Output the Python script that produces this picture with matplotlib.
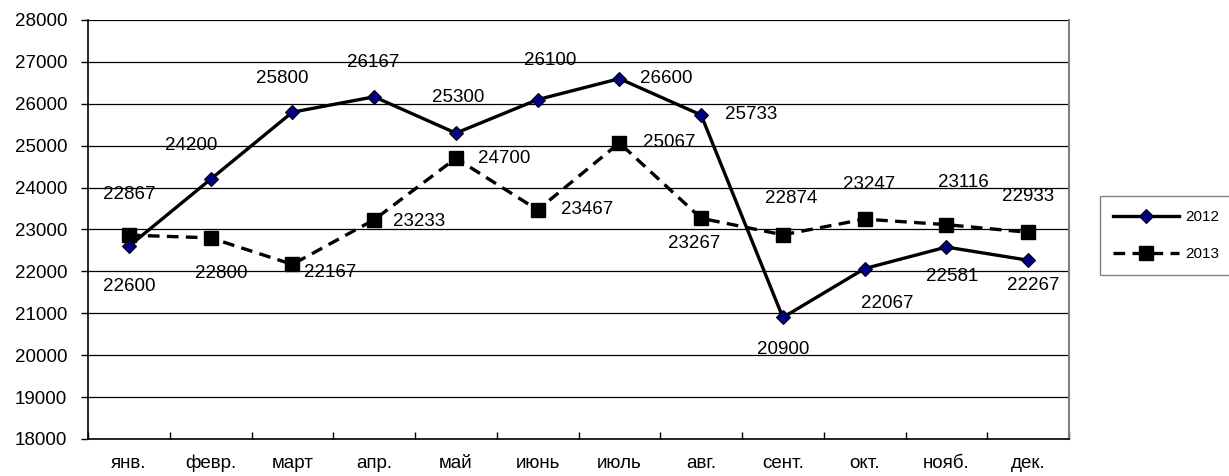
import matplotlib.pyplot as plt

plt.rcParams['font.family'] = ['Liberation Sans', 'DejaVu Sans']

# Data
months = ["янв.", "февр.", "март", "апр.", "май", "июнь",
          "июль", "авг.", "сент.", "окт.", "нояб.", "дек."]
sales_2012 = [22600, 24200, 25800, 26167, 25300, 26100,
              26600, 25733, 20900, 22067, 22581, 22267]
sales_2013 = [22867, 22800, 22167, 23233, 24700, 23467,
              25067, 23267, 22874, 23247, 23116, 22933]

# label offsets in points (style only)
off_2012 = [(0, -29), (-14, 24), (-7, 24), (-1, 25), (2, 26), (9, 28),
            (34, 0), (36, 0), (0, -23), (16, -25), (4, -21), (4, -18)]
off_2013 = [(0, 29), (8, -26), (27, -6), (32, -1), (35, 0), (36, 0),
            (36, 0), (-5, -18), (6, 26), (3, 25), (12, 30), (0, 26)]

fs = 13.5

fig = plt.figure(figsize=(12.29, 4.76), dpi=100)
ax = fig.add_axes([88 / 1229, 37 / 476, (1069 - 88) / 1229, (439 - 20) / 476])

x = list(range(len(months)))

ax.plot(x, sales_2012, color="black", lw=2.4, marker="D", ms=7,
        markerfacecolor="#000080", markeredgecolor="black", markeredgewidth=0.8,
        label="2012", zorder=4)
ax.plot(x, sales_2013, color="black", lw=2.4, ls=(0, (3.5, 2.2)), marker="s", ms=10,
        markerfacecolor="black", markeredgecolor="black",
        label="2013", zorder=3)

for i, v in enumerate(sales_2012):
    ax.annotate(str(v), (i, v), xytext=off_2012[i], textcoords="offset points",
                ha="center", va="center", fontsize=fs, zorder=5)
for i, v in enumerate(sales_2013):
    ax.annotate(str(v), (i, v), xytext=off_2013[i], textcoords="offset points",
                ha="center", va="center", fontsize=fs, zorder=5)

ax.set_xlim(-0.5, len(months) - 0.5)
ax.set_ylim(18000, 28000)
ax.set_yticks(range(18000, 28001, 1000))
ax.yaxis.grid(True, color="black", lw=0.9)
ax.set_axisbelow(True)

# category ticks between months, labels centered
ax.set_xticks([i - 0.5 for i in range(len(months) + 1)])
ax.set_xticklabels([])
ax.set_xticks(x, minor=True)
ax.set_xticklabels(months, minor=True)
ax.tick_params(axis="x", which="minor", length=0, pad=21, labelsize=fs)
for lab in ax.get_xticklabels(minor=True):
    lab.set_verticalalignment("baseline")
ax.tick_params(axis="x", which="major", length=5, width=1, direction="in")
ax.tick_params(axis="y", length=5, width=1, direction="out", labelsize=fs, pad=10)

ax.spines["left"].set_linewidth(1.2)
ax.spines["bottom"].set_linewidth(1.2)
ax.spines["top"].set_visible(False)
ax.spines["right"].set_color("#808080")
ax.spines["right"].set_linewidth(1.5)

leg = ax.legend(loc="center left", bbox_to_anchor=(1092 / 1229, 0.505),
                bbox_transform=fig.transFigure, frameon=True, fancybox=False,
                fontsize=11, handlelength=4.3, borderpad=0.9, labelspacing=1.5,
                handletextpad=0.4)
leg.get_frame().set_edgecolor("#606060")
leg.get_frame().set_linewidth(1)

fig.savefig("out.png", dpi=100)
